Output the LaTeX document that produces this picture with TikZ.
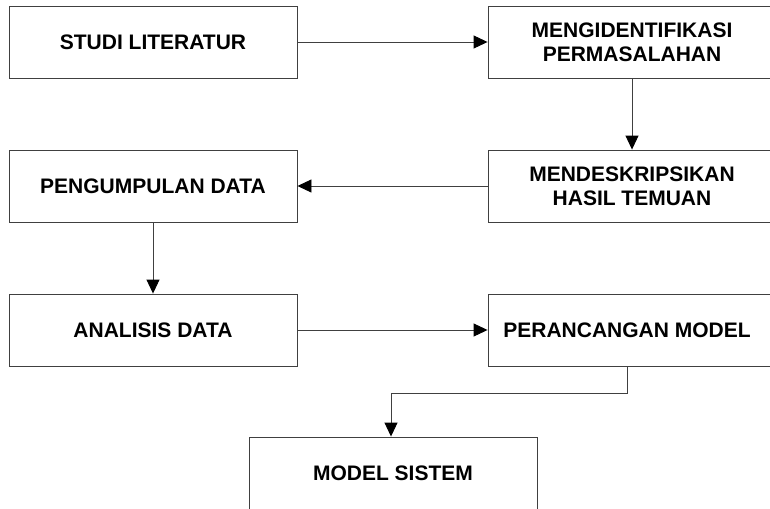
\documentclass[tikz,border=0pt]{standalone}
\usepackage{fontspec}
\setmainfont{Liberation Sans}
\usetikzlibrary{arrows.meta}

\begin{document}
\begin{tikzpicture}[x=1pt,y=-1pt]
\tikzstyle{every node}=[font=\bfseries\fontsize{21}{24}\selectfont, align=center]
\tikzstyle{tahap}=[draw=black!75, line width=0.9pt, minimum width=288pt, minimum height=72pt, inner sep=0pt]
\tikzstyle{alur}=[draw=black!75, line width=0.9pt, -{Triangle[length=14pt,width=13pt,fill=black,color=black]}]
\clip (0,0) rectangle (770,508);
\node (studi) [tahap] at (153,42) {STUDI LITERATUR};
\node (ident) [tahap] at (632,42) {MENGIDENTIFIKASI\\PERMASALAHAN};
\node (deskrip) [tahap] at (632,186) {MENDESKRIPSIKAN\\HASIL TEMUAN};
\node (kumpul) [tahap] at (153,186) {PENGUMPULAN DATA};
\node (analisis) [tahap] at (153,330) {ANALISIS DATA};
\node (rancang) [tahap] at (632,330) {\hspace*{-10pt}PERANCANGAN MODEL};
\node (sistem) [tahap] at (393,473) {MODEL SISTEM};
\draw[alur] (studi) -- (ident);
\draw[alur] (ident) -- (deskrip);
\draw[alur] (deskrip) -- (kumpul);
\draw[alur] (kumpul) -- (analisis);
\draw[alur] (analisis) -- (rancang);
\draw[alur] ([xshift=-5pt]rancang.south) -- ++(0,27) -| ([xshift=-2pt]sistem.north);
\end{tikzpicture}
\end{document}
